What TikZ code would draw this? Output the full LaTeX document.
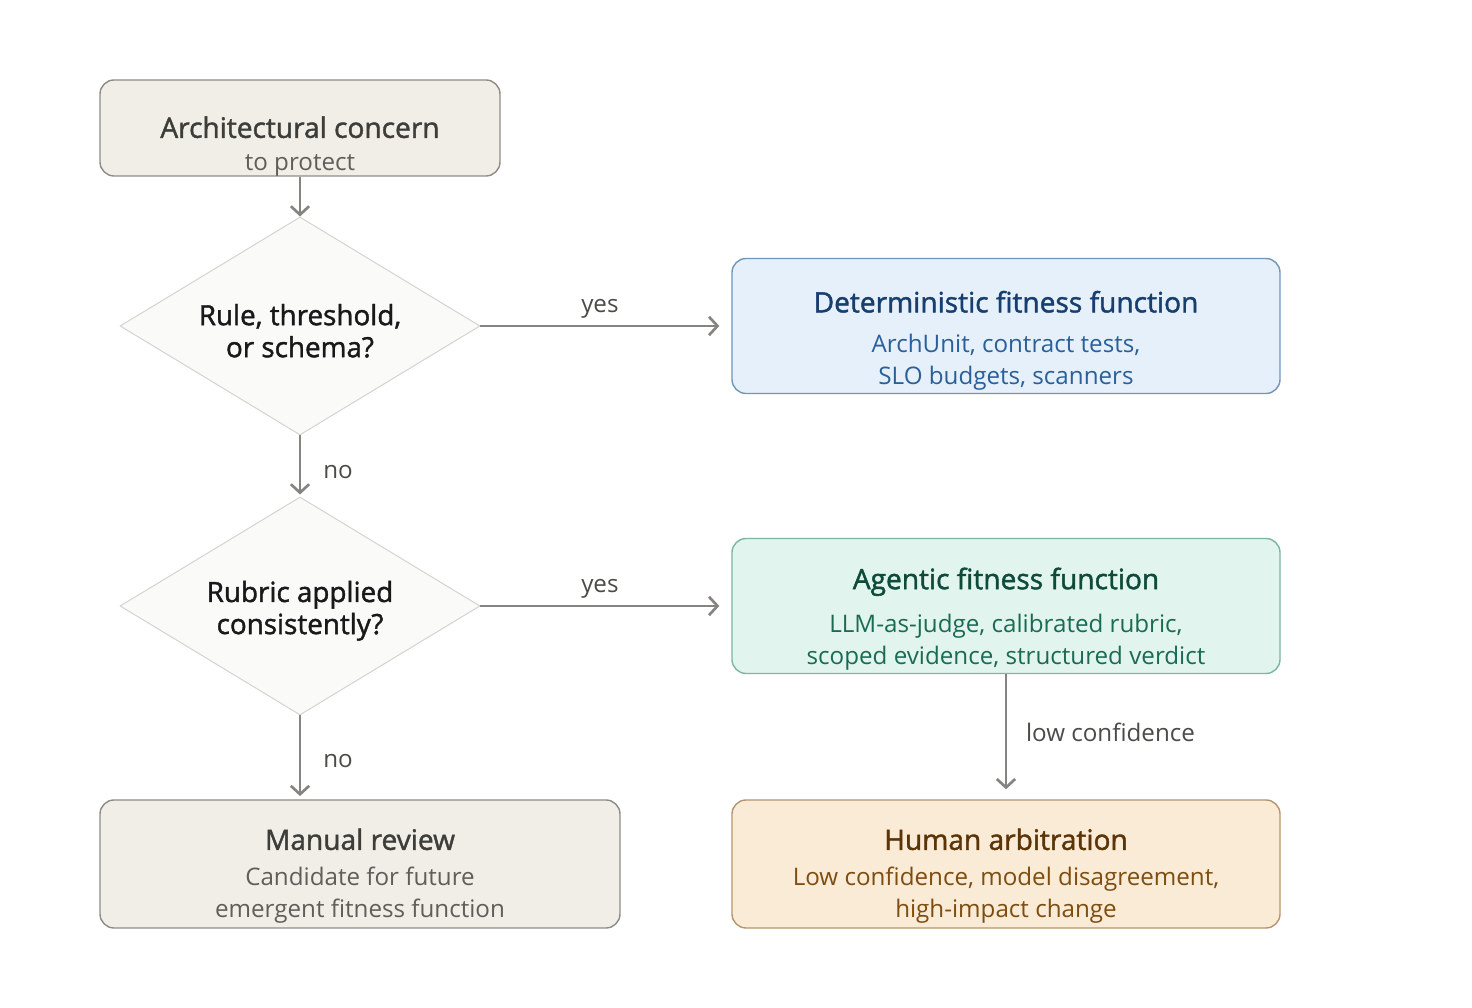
\documentclass[tikz,border=0pt]{standalone}
\usepackage{fontspec}
\setmainfont{Open Sans}
\newfontfamily\ttlface[FakeBold=1.5]{Open Sans}
\usetikzlibrary{shapes.geometric,arrows.meta}

\definecolor{neutfill}{HTML}{F1EEE7}
\definecolor{neutline}{HTML}{8E8C86}
\definecolor{neutttl}{HTML}{3D3D3A}
\definecolor{neuttxt}{HTML}{5F5E5A}
\definecolor{decfill}{HTML}{FAFAF8}
\definecolor{decline}{HTML}{D3D3D0}
\definecolor{flowgray}{HTML}{858480}
\definecolor{lblgray}{HTML}{4B4B48}
\definecolor{bluefill}{HTML}{E6F0FB}
\definecolor{blueline}{HTML}{7295BA}
\definecolor{bluettl}{HTML}{173F6E}
\definecolor{bluetxt}{HTML}{2A5F98}
\definecolor{greenfill}{HTML}{E1F4ED}
\definecolor{greenline}{HTML}{7DB6A0}
\definecolor{greenttl}{HTML}{0E4B38}
\definecolor{greentxt}{HTML}{1B6B52}
\definecolor{orangefill}{HTML}{FAEBD7}
\definecolor{orangeline}{HTML}{B59670}
\definecolor{orangettl}{HTML}{5B3408}
\definecolor{orangetxt}{HTML}{7E4D10}

\begin{document}
\begin{tikzpicture}[
    box/.style={rectangle, rounded corners=10pt, line width=1pt, inner sep=0pt},
    neutbox/.style={box, draw=neutline, fill=neutfill},
    bluebox/.style={box, draw=blueline, fill=bluefill, minimum width=13.7cm, minimum height=3.375cm},
    greenbox/.style={box, draw=greenline, fill=greenfill, minimum width=13.7cm, minimum height=3.375cm},
    orangebox/.style={box, draw=orangeline, fill=orangefill, minimum width=13.7cm, minimum height=3.2cm},
    decision/.style={diamond, draw=decline, fill=decfill, line width=0.7pt, inner sep=0pt,
        minimum width=9cm, minimum height=5.45cm},
    dectext/.style={align=center, text=black!90, font=\ttlface\fontsize{19.8}{22.8}\selectfont},
    ttl/.style={font=\ttlface\fontsize{20}{22.8}\selectfont},
    sub/.style={align=center, font=\fontsize{17.2}{22.8}\selectfont},
    flow/.style={-{Straight Barb[length=6pt, width=13pt]}, draw=flowgray, line width=1.9pt},
    lbl/.style={text=lblgray, font=\fontsize{17.2}{20}\selectfont}
]
    % Canvas
    \fill[white] (0, 0) rectangle (36.8, 25.2);
    \useasboundingbox (0, 0) rectangle (36.8, 25.2);

    % Start box
    \node[neutbox, minimum width=10cm, minimum height=2.4cm] (arch) at (7.5, 22) {};
    \node[ttl, text=neutttl] (archT) at ([yshift=-1.2cm]arch.north) {Architectural concern};
    \node[sub, text=neuttxt] (archS) at ([yshift=-2.15cm]arch.north) {to protect};

    % Decisions
    \node[decision] (rule) at (7.5, 17.05) {};
    \node[dectext] (ruleT) at ([yshift=-0.12cm]rule.center) {Rule, threshold,\\or schema?};
    \node[decision] (rubric) at (7.5, 10.05) {};
    \node[dectext] (rubricT) at ([yshift=-0.12cm]rubric.center) {Rubric applied\\consistently?};

    % Deterministic branch
    \node[bluebox] (det) at (25.15, 17.05) {};
    \node[ttl, text=bluettl] (detT) at ([yshift=-1.1cm]det.north) {Deterministic fitness function};
    \node[sub, text=bluetxt] (detS) at ([yshift=-2.6cm]det.north) {ArchUnit, contract tests,\\SLO budgets, scanners};

    % Agentic branch
    \node[greenbox] (agent) at (25.15, 10.05) {};
    \node[ttl, text=greenttl] (agentT) at ([yshift=-1.1cm]agent.north) {Agentic fitness function};
    \node[sub, text=greentxt] (agentS) at ([yshift=-2.6cm]agent.north) {LLM-as-judge, calibrated rubric,\\scoped evidence, structured verdict};

    % Human arbitration
    \node[orangebox] (human) at (25.15, 3.6) {};
    \node[ttl, text=orangettl] (humanT) at ([yshift=-1.0cm]human.north) {Human arbitration};
    \node[sub, text=orangetxt] (humanS) at ([yshift=-2.4cm]human.north) {Low confidence, model disagreement,\\high-impact change};

    % Manual review
    \node[neutbox, minimum width=13cm, minimum height=3.2cm] (manual) at (9, 3.6) {};
    \node[ttl, text=neutttl] (manualT) at ([yshift=-1.0cm]manual.north) {Manual review};
    \node[sub, text=neuttxt] (manualS) at ([yshift=-2.4cm]manual.north) {Candidate for future\\emergent fitness function};

    % Connectors
    \draw[flow] (arch) -- (rule);
    \draw[flow, shorten >=0.3cm] (rule.east) -- (rule.east -| det.west) node[lbl, midway, xshift=-0.15cm, yshift=0.42cm] {yes};
    \draw[flow, shorten >=0.05cm] (rule) -- (rubric) node[lbl, midway, xshift=0.95cm, yshift=-0.15cm] {no};
    \draw[flow, shorten >=0.3cm] (rubric.east) -- (rubric.east -| agent.west) node[lbl, midway, xshift=-0.15cm, yshift=0.42cm] {yes};
    \draw[flow, shorten >=0.08cm] (rubric.south) -- (rubric.south |- manual.north) node[lbl, midway, xshift=0.95cm, yshift=-0.1cm] {no};
    \draw[flow, shorten >=0.25cm] (agent) -- (human) node[lbl, midway, anchor=west, xshift=0.35cm, yshift=0.12cm] {low confidence};
\end{tikzpicture}
\end{document}
